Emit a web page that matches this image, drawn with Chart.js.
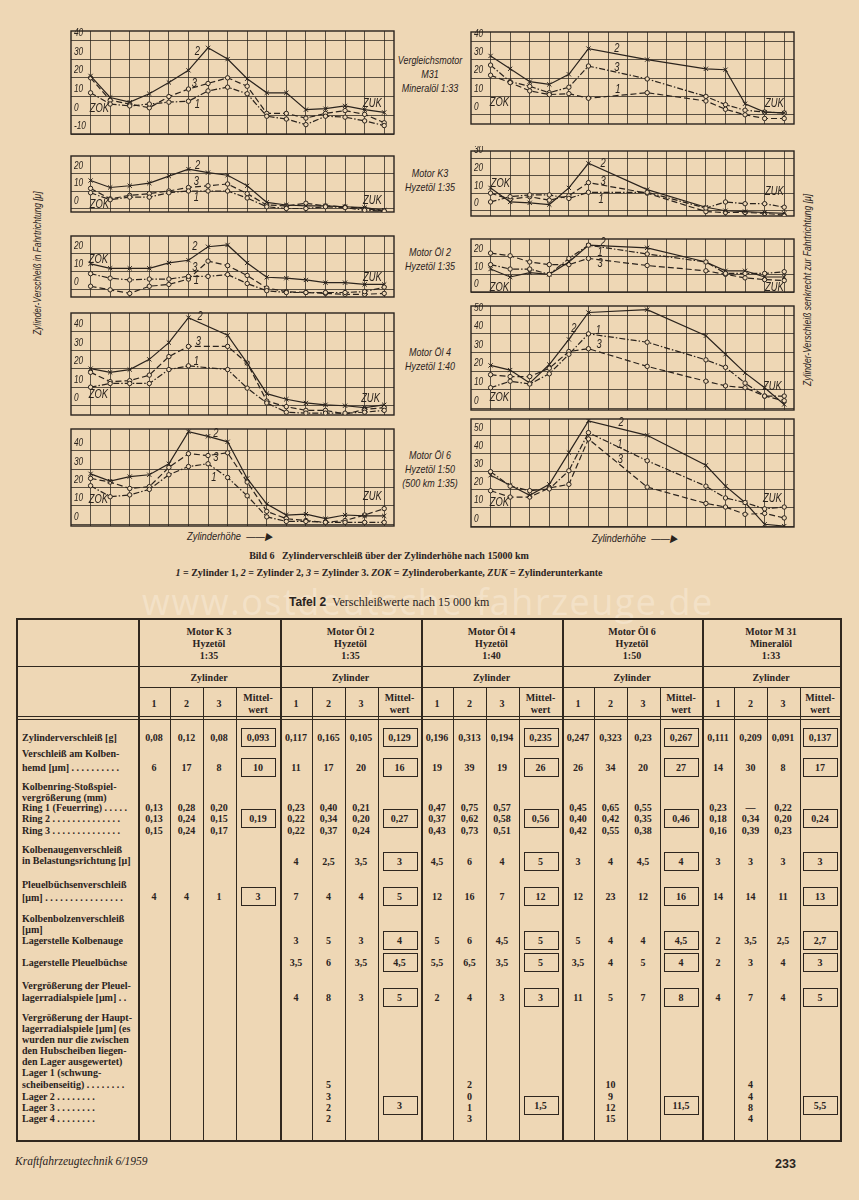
<!DOCTYPE html>
<html lang="de">
<head>
<meta charset="utf-8">
<title>Bild 6 – Zylinderverschleiß / Tafel 2</title>
<script src="https://cdn.jsdelivr.net/npm/chart.js@4.4.0/dist/chart.umd.min.js"></script>
<style>
  html, body { margin: 0; padding: 0; }
  body {
    width: 859px; height: 1200px; position: relative; overflow: hidden;
    background: #eed7b5; color: #2a231d;
    font-family: "Liberation Serif", "DejaVu Serif", serif;
  }
  canvas { position: absolute; }
  .abs { position: absolute; white-space: nowrap; }
  .mitte {
    position: absolute; width: 100px; text-align: center; line-height: 14px;
    font-family: "Liberation Sans", sans-serif;
    font-style: italic; font-size: 11.5px; transform: scaleX(0.78); transform-origin: 50% 0;
  }
  .seite {
    position: absolute; white-space: nowrap; transform-origin: 0 0;
    font-family: "Liberation Sans", sans-serif;
    font-style: italic; font-size: 11px;
  }
  .achse {
    position: absolute; white-space: nowrap; transform: scaleX(0.85); transform-origin: 0 0;
    font-family: "Liberation Sans", sans-serif;
    font-style: italic; font-size: 11px;
  }
  .cap { position: absolute; left: 0; width: 778px; text-align: center; white-space: nowrap; font-size: 10px; font-weight: bold; }
  .tab { font-size: 10px; font-weight: bold; }
  .box { position: absolute; border: 1.2px solid #2e261f; }
  .lin { position: absolute; background: #30281f; }
</style>
</head>
<body>

<div class="mitte" style="left:380px; top:53px;">Vergleichsmotor<br>M31<br>Mineralöl 1:33</div>
<div class="mitte" style="left:380px; top:166px;">Motor K3<br>Hyzetöl 1:35</div>
<div class="mitte" style="left:380px; top:245px;">Motor Öl 2<br>Hyzetöl 1:35</div>
<div class="mitte" style="left:380px; top:345px;">Motor Öl 4<br>Hyzetöl 1:40</div>
<div class="mitte" style="left:380px; top:448px;">Motor Öl 6<br>Hyzetöl 1:50<br>(500 km 1:35)</div>

<div class="seite" style="left:31px; top:335px; transform: rotate(-90deg) scaleX(0.76);">Zylinder-Verschleiß in Fahrtrichtung [μ]</div>
<div class="seite" style="left:801px; top:386px; transform: rotate(-90deg) scaleX(0.78);">Zylinder-Verschleiß senkrecht zur Fahrtrichtung [μ]</div>

<div class="achse" style="left:187px; top:530px;">Zylinderhöhe &nbsp;——▶</div>
<div class="achse" style="left:592px; top:532px;">Zylinderhöhe &nbsp;——▶</div>

<div class="cap" style="top:550px;">Bild 6 &nbsp; Zylinderverschleiß über der Zylinderhöhe nach 15000 km</div>
<div class="cap" style="top:567px;"><i>1</i> = Zylinder 1, <i>2</i> = Zylinder 2, <i>3</i> = Zylinder 3. <i>ZOK</i> = Zylinderoberkante, <i>ZUK</i> = Zylinderunterkante</div>

<div class="abs" style="left:142px; top:577px; font-family:'Open Sans',sans-serif; font-size:36px; letter-spacing:1.5px; color:rgba(255,250,240,0.32);">www.ostdeutsche-fahrzeuge.de</div>

<div class="abs" style="left:289px; top:595px; font-size:12px;"><b style="font-family:'Liberation Sans',sans-serif;">Tafel 2</b> &nbsp;Verschleißwerte nach 15 000 km</div>

<div class="abs" style="left:15px; top:1155px; font-size:11.5px; font-style:italic;">Kraftfahrzeugtechnik 6/1959</div>
<div class="abs" style="left:775px; top:1157px; font-size:12.5px; font-weight:bold; font-family:'Liberation Sans',sans-serif;">233</div>

<script>
// Messstellen über der Zylinderhöhe (ZOK ... ZUK)
const stationen = [0, 1, 2, 3, 4, 5, 6, 7, 8, 9, 10, 11, 12, 13, 14, 15];
const n = null;

// Vergleichsmotor M31 – in Fahrtrichtung
const m31F_z1 = [12, 6, 5, 6, 7, 7.5, 13, 15, 11.5, -0.5, -2, -5, -0.5, -1, -3, -5.5];
const m31F_z2 = [21, 9.5, 7, 11.5, 17.5, 24, 36, 30, 19.5, 12, 12, 3, 3.5, 5, 3, 1.5];
const m31F_z3 = [20, 8, 6, 4, 10, 14, 17, 20, 15.5, 1, 1, -1.5, 1, 2.5, 0.5, -4];
const m31F_yTicks = [-10, 0, 10, 20, 30, 40];
// Vergleichsmotor M31 – senkrecht zur Fahrtrichtung
const m31S_z1 = [21.5, 17.5, 13, 11, 11.5, 9, n, n, 12, n, n, 7.5, 3, 0, -2, -2];
const m31S_z2 = [32, 25, 18, 16.5, 22, 36, n, n, 30, n, n, 25, 24.5, 6, 1.5, 1];
const m31S_z3 = [27, 18, 15.5, 12, 15, 26.5, n, n, 19.5, n, n, 10, 5.5, 2.5, 1.5, 1];
const m31S_yTicks = [0, 10, 20, 30, 40];

// Motor K3
const k3F_z1 = [9, 5, 6.5, 6.5, 9, 10, 10, 10, 6, 1, 0, 0, 1, 0.5, -1, -1.5];
const k3F_z2 = [16, 12, 13, 14.5, 18.5, 22.5, 20.5, 19, 13, 3.5, 2, 1.5, 1.5, 1, 0.5, -1];
const k3F_z3 = [11.5, 5.5, 7.5, 8.5, 10, 12, 13, 14, 8.5, 2, 1.5, 3, 1.5, 1, 0, -1.5];
const k3F_yTicks = [0, 10, 20];
const k3S_z1 = [5, 8, 9, 9, 7, 10.5, n, n, 10.5, n, n, 1.5, 5, 4, 4, 2];
const k3S_z2 = [13, 5, 4.5, 3.5, 13, 27, n, n, 12, n, n, 2, 0, -0.5, -1, -1.5];
const k3S_z3 = [10, 6.5, 8, 6, 8.5, 16, n, n, 10, n, n, -0.5, -1, -1, -1.5, -2.5];
const k3S_yTicks = [0, 10, 20, 30];

// Motor Öl 2
const oel2F_z1 = [9, 6.5, 5.5, 6, 6, 7.5, 7.5, 8.5, 3.5, -0.5, -1.5, -1.5, -1.5, -1.5, -1, 1.5];
const oel2F_z2 = [14.5, 12, 12, 12, 15, 16.5, 24, 25, 15, 7, 6.5, 5.5, 4, 4, 3, 3];
const oel2F_z3 = [2, 0, -2, 2, 3, 6, 16, 13.5, 8, 1, -1, -1.5, -2, -2.5, -2.5, -2];
const oel2F_yTicks = [0, 10, 20];
const oel2S_z1 = [15.5, 13, 13, 10, 19, 26.5, n, n, 21.5, n, n, 17, 10.5, 10.5, 10.5, 11.5];
const oel2S_z2 = [13, 8.5, 11, 10, 17, 26.5, n, n, 25, n, n, 17, 12, 12, 8.5, 8.5];
const oel2S_z3 = [22, 20.5, 17, 15.5, 15.5, 19, n, n, 15, n, n, 12, 10, 8, 7, 6.5];
const oel2S_yTicks = [0, 10, 20];

// Motor Öl 4
const oel4F_z1 = [10, 12, 12, 12, 19.5, 21.5, n, 19.5, 9.5, 1.5, -3.5, -4, -4, -4, -3.5, -2.5];
const oel4F_z2 = [20, 18, 19.5, 25, 34, 47.5, n, 38, 23, 6.5, 3.5, 1.5, 0.5, 0, -1, 0.5];
const oel4F_z3 = [18, 13, 13.5, 16.5, 26.5, 32, n, 32, 23, 2.5, -0.5, -2.5, -2.5, -4.5, -2, -1];
const oel4F_yTicks = [0, 10, 20, 30, 40];
const oel4S_z1 = [11, 14.5, 13, 18.5, 29, 40, n, n, 35.5, n, n, 26, 22, 13.5, 6.5, 6.5];
const oel4S_z2 = [23, 20.5, 13.5, 23.5, 37, 51.5, n, n, 53, n, n, 39, 29, 19, 11, 2];
const oel4S_z3 = [18, 17, 17, 21.5, 30.5, 32, n, n, 22.5, n, n, 14.5, 12, 11, 6.5, 4];
const oel4S_yTicks = [0, 10, 20, 30, 40, 50];

// Motor Öl 6
const oel6F_z1 = [21, 15, 16, 19, 27, 31.5, 33, 25.5, 15.5, 4, 1.5, 1.5, 1, 1, 1, 1];
const oel6F_z2 = [27.5, 23.5, 26, 27, 33, 50.5, 48, 45, 25, 11, 5, 5.5, 3, 5, 4.5, 4.5];
const oel6F_z3 = [25, 23, 19.5, 20.5, 31, 38.5, 37.5, 39, 23, 7, 3, 2, 1, 2, 5, 8.5];
const oel6F_yTicks = [0, 10, 20, 30, 40];
const oel6S_z1 = [30, 22, 19.5, 20.5, 30.5, 51.5, n, n, 36, n, n, 22, 15.5, 13, 9.5, 10.5];
const oel6S_z2 = [28, 22.5, 17, 23, 40.5, 58, n, n, 50, n, n, 33.5, 22, 13, 1, 0];
const oel6S_z3 = [19.5, 16, 16, 21, 23, 48, n, n, 21.5, n, n, 12.5, 10.5, 6.5, 7, 4.5];
const oel6S_yTicks = [0, 10, 20, 30, 40, 50];

// Beschriftungen im Diagramm [Text, Messstelle, Wert]
const m31F_marken = [['ZOK', 0.45, 3.8], ['2', 5.45, 34], ['3', 5.3, 17], ['1', 5.45, 6], ['ZUK', 14.4, 6.3]];
const m31S_marken = [['ZOK', 0.45, 6.5], ['2', 6.45, 36], ['3', 6.45, 25.5], ['1', 6.5, 13.8], ['ZUK', 14.5, 6.2]];
const k3F_marken = [['ZOK', 0.45, 2.2], ['2', 5.47, 24.7], ['3', 5.4, 15.5], ['1', 5.4, 6.5], ['ZUK', 14.4, 4.8]];
const k3S_marken = [['ZOK', 0.5, 15.5], ['2', 5.75, 26.7], ['3', 5.75, 16.9], ['1', 5.65, 6.6], ['ZUK', 14.5, 11.2]];
const oel2F_marken = [['ZOK', 0.4, 16.8], ['2', 5.33, 24.4], ['3', 5.33, 12.6], ['1', 5.4, 5], ['ZUK', 14.4, 6.7]];
const oel2S_marken = [['ZOK', 0.45, 2.4], ['2', 5.75, 28], ['1', 5.6, 22.5], ['3', 5.6, 16], ['ZUK', 14.5, 2.4]];
const oel4F_marken = [['ZOK', 0.4, 6], ['2', 5.6, 48], ['3', 5.5, 34.7], ['1', 5.4, 23.7], ['ZUK', 14.3, 4.2]];
const oel4S_marken = [['ZOK', 0.45, 6], ['2', 4.25, 43], ['1', 5.5, 42], ['3', 5.55, 34.5], ['ZUK', 14.4, 11.7]];
const oel6F_marken = [['ZOK', 0.4, 13.4], ['2', 6.4, 49.5], ['3', 6.4, 36.5], ['1', 6.3, 25.5], ['ZUK', 14.4, 15]];
const oel6S_marken = [['ZOK', 0.45, 13], ['2', 6.67, 57], ['1', 6.6, 45], ['3', 6.63, 36.5], ['ZUK', 14.4, 15]];

const TINTE = '#2a231d';
const PAPIER = '#eed7b5';
const SCHRIFT = '"Liberation Sans", sans-serif';
const BREITE = 329;
const STRICHPUNKT = [6, 2, 1.5, 2];
const GESTRICHELT = [6, 3];

const diagramme = [
  { links: 68,  oben: 28,  hoehe: 109, yMin: -10, yMax: 45, z1: m31F_z1, z2: m31F_z2, z3: m31F_z3, yTicks: m31F_yTicks, marken: m31F_marken },
  { links: 468, oben: 29,  hoehe: 98,  yMin: -5,  yMax: 45, z1: m31S_z1, z2: m31S_z2, z3: m31S_z3, yTicks: m31S_yTicks, marken: m31S_marken, tausch: true },
  { links: 68,  oben: 153, hoehe: 62,  yMin: -2,  yMax: 30, z1: k3F_z1, z2: k3F_z2, z3: k3F_z3, yTicks: k3F_yTicks, marken: k3F_marken },
  { links: 468, oben: 148, hoehe: 71,  yMin: -3,  yMax: 34, z1: k3S_z1, z2: k3S_z2, z3: k3S_z3, yTicks: k3S_yTicks, marken: k3S_marken },
  { links: 68,  oben: 233, hoehe: 67,  yMin: -4,  yMax: 30, z1: oel2F_z1, z2: oel2F_z2, z3: oel2F_z3, yTicks: oel2F_yTicks, marken: oel2F_marken },
  { links: 468, oben: 236, hoehe: 59,  yMin: 0,   yMax: 30, z1: oel2S_z1, z2: oel2S_z2, z3: oel2S_z3, yTicks: oel2S_yTicks, marken: oel2S_marken },
  { links: 68,  oben: 310, hoehe: 108, yMin: -5,  yMax: 50, z1: oel4F_z1, z2: oel4F_z2, z3: oel4F_z3, yTicks: oel4F_yTicks, marken: oel4F_marken },
  { links: 468, oben: 303, hoehe: 110, yMin: -1,  yMax: 55, z1: oel4S_z1, z2: oel4S_z2, z3: oel4S_z3, yTicks: oel4S_yTicks, marken: oel4S_marken },
  { links: 68,  oben: 426, hoehe: 103, yMin: -1,  yMax: 52, z1: oel6F_z1, z2: oel6F_z2, z3: oel6F_z3, yTicks: oel6F_yTicks, marken: oel6F_marken },
  { links: 468, oben: 416, hoehe: 114, yMin: -0.5, yMax: 59, z1: oel6S_z1, z2: oel6S_z2, z3: oel6S_z3, yTicks: oel6S_yTicks, marken: oel6S_marken }
];

function serie(label, werte, punkt, strich) {
  const kreuz = punkt === 'x';
  return {
    label: label,
    data: werte,
    borderColor: TINTE,
    borderWidth: 1.2,
    borderDash: strich,
    spanGaps: true,
    tension: 0,
    fill: false,
    pointStyle: kreuz ? 'crossRot' : 'circle',
    pointRadius: kreuz ? 3 : 2.2,
    pointBorderWidth: 1,
    pointBorderColor: TINTE,
    pointBackgroundColor: PAPIER
  };
}

// schmale, kursive Schrift wie im Original
function schmal(ctx, s, x, y, groesse, ausrichtung) {
  ctx.save();
  ctx.translate(x, y);
  ctx.scale(0.72, 1);
  ctx.font = 'italic ' + groesse + 'px ' + SCHRIFT;
  ctx.textAlign = ausrichtung;
  ctx.fillText(s, 0, 0);
  ctx.restore();
}

function baueDiagramm(d) {
  const canvas = document.createElement('canvas');
  canvas.width = BREITE + 4;
  canvas.height = d.hoehe + 4;
  canvas.style.left = (d.links - 2) + 'px';
  canvas.style.top = (d.oben - 2) + 'px';
  document.body.appendChild(canvas);

  // Rahmen, Skalenwerte und Beschriftungen
  const beschriftung = {
    id: 'beschriftung',
    beforeDatasetsDraw(chart) {
      const { ctx, chartArea: a } = chart;
      ctx.save();
      ctx.strokeStyle = TINTE;
      ctx.lineWidth = 1.4;
      ctx.strokeRect(a.left, a.top, a.right - a.left, a.bottom - a.top);
      ctx.restore();
    },
    afterDatasetsDraw(chart) {
      const { ctx, chartArea: a, scales } = chart;
      ctx.save();
      ctx.fillStyle = TINTE;
      ctx.textBaseline = 'bottom';
      d.yTicks.forEach(v => {
        schmal(ctx, String(v), a.left + 3, scales.y.getPixelForValue(v) - 2, 11.5, 'left');
      });
      ctx.textBaseline = 'middle';
      d.marken.forEach(m => {
        schmal(ctx, m[0], scales.x.getPixelForValue(m[1]), scales.y.getPixelForValue(m[2]), 13, 'center');
      });
      ctx.restore();
    }
  };

  new Chart(canvas.getContext('2d'), {
    type: 'line',
    data: {
      labels: stationen,
      datasets: [
        serie('Zylinder 1', d.z1, 'o', d.tausch ? GESTRICHELT : STRICHPUNKT),
        serie('Zylinder 2', d.z2, 'x', []),
        serie('Zylinder 3', d.z3, 'o', d.tausch ? STRICHPUNKT : GESTRICHELT)
      ]
    },
    options: {
      responsive: false,
      animation: false,
      events: [],
      layout: { padding: 2 },
      plugins: { legend: { display: false }, tooltip: { enabled: false } },
      scales: {
        x: {
          type: 'linear', min: -1, max: 15.5,
          ticks: { display: false },
          afterBuildTicks: s => { s.ticks = stationen.map(v => ({ value: v })); },
          grid: { color: 'rgba(42,35,29,0.85)', lineWidth: 0.9, drawTicks: false },
          border: { display: false }
        },
        y: {
          min: d.yMin, max: d.yMax,
          ticks: { display: false },
          afterBuildTicks: s => { s.ticks = d.yTicks.map(v => ({ value: v })); },
          grid: { color: 'rgba(42,35,29,0.85)', lineWidth: 0.9, drawTicks: false },
          border: { display: false }
        }
      }
    },
    plugins: [beschriftung]
  });
}

diagramme.forEach(baueDiagramm);

// ---------- Tafel 2 ----------
const motoren = [
  ['Motor K 3', 'Hyzetöl', '1:35'],
  ['Motor Öl 2', 'Hyzetöl', '1:35'],
  ['Motor Öl 4', 'Hyzetöl', '1:40'],
  ['Motor Öl 6', 'Hyzetöl', '1:50'],
  ['Motor M 31', 'Mineralöl', '1:33']
];
const zylVerschleiss = [['0,08', '0,12', '0,08', '0,093'], ['0,117', '0,165', '0,105', '0,129'], ['0,196', '0,313', '0,194', '0,235'], ['0,247', '0,323', '0,23', '0,267'], ['0,111', '0,209', '0,091', '0,137']];
const kolbenhemd = [['6', '17', '8', '10'], ['11', '17', '20', '16'], ['19', '39', '19', '26'], ['26', '34', '20', '27'], ['14', '30', '8', '17']];
const ring1 = [['0,13', '0,28', '0,20'], ['0,23', '0,40', '0,21'], ['0,47', '0,75', '0,57'], ['0,45', '0,65', '0,55'], ['0,23', '—', '0,22']];
const ring2 = [['0,13', '0,24', '0,15'], ['0,22', '0,34', '0,20'], ['0,37', '0,62', '0,58'], ['0,40', '0,42', '0,35'], ['0,18', '0,34', '0,20']];
const ring3 = [['0,15', '0,24', '0,17'], ['0,22', '0,37', '0,24'], ['0,43', '0,73', '0,51'], ['0,42', '0,55', '0,38'], ['0,16', '0,39', '0,23']];
const ringMittel = ['0,19', '0,27', '0,56', '0,46', '0,24'];
const kolbenauge = [null, ['4', '2,5', '3,5', '3'], ['4,5', '6', '4', '5'], ['3', '4', '4,5', '4'], ['3', '3', '3', '3']];
const pleuelbuechse = [['4', '4', '1', '3'], ['7', '4', '4', '5'], ['12', '16', '7', '12'], ['12', '23', '12', '16'], ['14', '14', '11', '13']];
const lagerKolbenauge = [null, ['3', '5', '3', '4'], ['5', '6', '4,5', '5'], ['5', '4', '4', '4,5'], ['2', '3,5', '2,5', '2,7']];
const lagerPleuel = [null, ['3,5', '6', '3,5', '4,5'], ['5,5', '6,5', '3,5', '5'], ['3,5', '4', '5', '4'], ['2', '3', '4', '3']];
const pleuelRadial = [null, ['4', '8', '3', '5'], ['2', '4', '3', '3'], ['11', '5', '7', '8'], ['4', '7', '4', '5']];
const hauptLager = [null, ['5', '3', '2', '2'], ['2', '0', '1', '3'], ['10', '9', '12', '15'], ['4', '4', '8', '4']];
const hauptMittel = [null, '3', '1,5', '11,5', '5,5'];

const zeilenText = [
  ['Zylinderverschleiß [g]', 737], ['Verschleiß am Kolben-', 753], ['hemd [μm] . . . . . . . . . .', 767],
  ['Kolbenring-Stoßspiel-', 786], ['vergrößerung (mm)', 797], ['Ring 1 (Feuerring) . . . . .', 807],
  ['Ring 2 . . . . . . . . . . . . . .', 818], ['Ring 3 . . . . . . . . . . . . . .', 830],
  ['Kolbenaugenverschleiß', 849], ['in Belastungsrichtung [μ]', 860],
  ['Pleuelbüchsenverschleiß', 884], ['[μm] . . . . . . . . . . . . . . . .', 897],
  ['Kolbenbolzenverschleiß', 918], ['[μm]', 929], ['Lagerstelle Kolbenauge', 940],
  ['Lagerstelle Pleuelbüchse', 962],
  ['Vergrößerung der Pleuel-', 985], ['lagerradialspiele [μm] . .', 997],
  ['Vergrößerung der Haupt-', 1017], ['lagerradialspiele [μm] (es', 1028], ['wurden nur die zwischen', 1039],
  ['den Hubscheiben liegen-', 1050], ['den Lager ausgewertet)', 1061], ['Lager 1 (schwung-', 1072],
  ['scheibenseitig) . . . . . . . .', 1084], ['Lager 2 . . . . . . . .', 1096], ['Lager 3 . . . . . . . .', 1107], ['Lager 4 . . . . . . . .', 1118]
];

const T_LINKS = 16, T_RECHTS = 840, T_OBEN = 618, T_UNTEN = 1140;
const gruppenX = [138, 280, 421, 562, 702, 840];

function linie(x, y, w, h) {
  const el = document.createElement('div');
  el.className = 'lin';
  el.style.left = x + 'px'; el.style.top = y + 'px';
  el.style.width = w + 'px'; el.style.height = h + 'px';
  document.body.appendChild(el);
}
function text(s, x, y, mitte) {
  const el = document.createElement('div');
  el.className = 'abs tab';
  el.textContent = s;
  el.style.left = x + 'px'; el.style.top = y + 'px';
  el.style.transform = mitte ? 'translate(-50%,-50%)' : 'translate(0,-50%)';
  document.body.appendChild(el);
}
function kasten(x, y) {
  const el = document.createElement('div');
  el.className = 'box';
  el.style.left = (x - 17) + 'px'; el.style.top = (y - 9) + 'px';
  el.style.width = '33px'; el.style.height = '17px';
  document.body.appendChild(el);
}
function spalteX(g, k) {
  const a = gruppenX[g], b = gruppenX[g + 1];
  return [a + 16, a + 48.5, a + 81, a + (98 + (b - a)) / 2][k];
}

// Rahmen und Linien
linie(T_LINKS, T_OBEN, T_RECHTS - T_LINKS, 1.5);
linie(T_LINKS, T_UNTEN, T_RECHTS - T_LINKS, 1.5);
linie(T_LINKS, T_OBEN, 1.5, T_UNTEN - T_OBEN);
linie(T_RECHTS, T_OBEN, 1.5, T_UNTEN - T_OBEN + 1.5);
linie(T_LINKS, 666, T_RECHTS - T_LINKS, 1.2);
linie(138, 687, T_RECHTS - 138, 1.2);
linie(T_LINKS, 716, T_RECHTS - T_LINKS, 1);
linie(T_LINKS, 719, T_RECHTS - T_LINKS, 1);
gruppenX.slice(0, 5).forEach((gx, g) => {
  linie(gx, T_OBEN, 1.8, T_UNTEN - T_OBEN);
  [32, 65, 98].forEach(dx => linie(gx + dx, 687, 1.2, T_UNTEN - 687));
});

// Kopf
motoren.forEach((m, g) => {
  const mx = (gruppenX[g] + gruppenX[g + 1]) / 2;
  m.forEach((z, i) => text(z, mx, 631 + i * 12, true));
  text('Zylinder', mx, 677, true);
  ['1', '2', '3'].forEach((z, k) => text(z, spalteX(g, k), 703, true));
  text('Mittel-', spalteX(g, 3), 697, true);
  text('wert', spalteX(g, 3), 709, true);
});

// Zeilentitel
zeilenText.forEach(z => text(z[0], 22, z[1], false));

// Werte
function zeile(werte, y) {
  werte.forEach((w, g) => {
    if (!w) return;
    w.forEach((v, k) => {
      text(v, spalteX(g, k), y, true);
      if (k === 3) kasten(spalteX(g, 3), y);
    });
  });
}
zeile(zylVerschleiss, 737);
zeile(kolbenhemd, 767);
zeile(ring1, 807);
zeile(ring2, 818);
zeile(ring3, 830);
ringMittel.forEach((v, g) => { text(v, spalteX(g, 3), 818, true); kasten(spalteX(g, 3), 818); });
zeile(kolbenauge, 861);
zeile(pleuelbuechse, 896);
zeile(lagerKolbenauge, 940);
zeile(lagerPleuel, 962);
zeile(pleuelRadial, 997);
const lagerY = [1084, 1096, 1107, 1118];
hauptLager.forEach((w, g) => {
  if (!w) return;
  w.forEach((v, i) => text(v, spalteX(g, 1), lagerY[i], true));
  text(hauptMittel[g], spalteX(g, 3), 1105, true);
  kasten(spalteX(g, 3), 1105);
});
</script>
</body>
</html>
